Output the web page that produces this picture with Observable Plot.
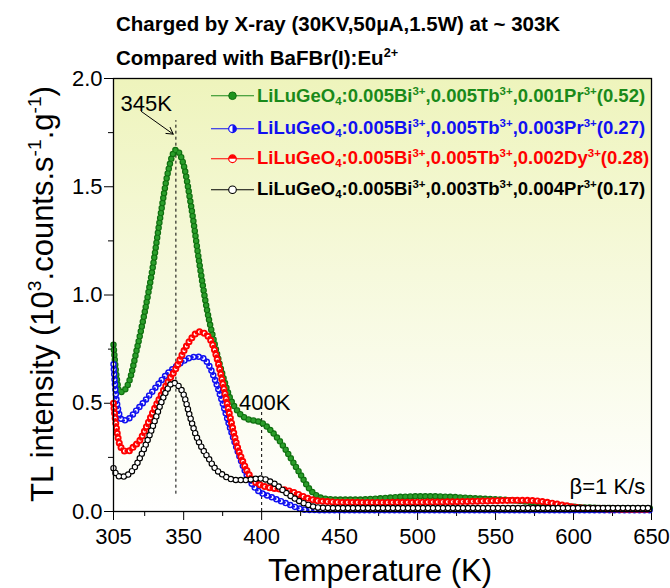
<!DOCTYPE html>
<html><head><meta charset="utf-8">
<script src="https://cdn.jsdelivr.net/npm/d3@7"></script>
<script src="https://cdn.jsdelivr.net/npm/@observablehq/plot@0.6"></script>
<style>
html,body{margin:0;padding:0;background:#fff;}
#wrap{position:relative;width:670px;height:588px;font-family:"Liberation Sans",Arial,sans-serif;color:#000;overflow:hidden;}
#wrap > svg{position:absolute;left:0;top:0;}
.abs{position:absolute;white-space:nowrap;line-height:1;}
.title{font-weight:bold;font-size:20.5px;left:116px;transform:translateY(-50%);}
sup,sub{font-size:0.62em;line-height:0;}
sup{vertical-align:0.6em;} sub{vertical-align:-0.3em;}
.leg{left:211px;font-weight:bold;font-size:18.5px;display:flex;align-items:center;transform:translateY(-50%);}
.leg svg{margin-right:3px;}
.axlab{font-size:31px;}
</style></head>
<body><div id="wrap"></div>
<script>
// ---------- data ----------
const greenT = [305,307,309,312,315,320,325,330,335,340,345,350,355,360,365,370,375,380,385,390,395,400,405,410,415,420,425,430,435,440,450,460,470,480,490,500,510,520,530,540,550,560,570,580,590,600,620,650];
const greenV = [0.77,0.62,0.55,0.56,0.60,0.75,0.92,1.12,1.36,1.57,1.67,1.60,1.40,1.15,0.93,0.77,0.63,0.52,0.46,0.43,0.42,0.41,0.38,0.34,0.29,0.23,0.17,0.11,0.075,0.06,0.055,0.055,0.058,0.063,0.068,0.07,0.07,0.068,0.064,0.06,0.056,0.052,0.045,0.037,0.028,0.022,0.016,0.014];

const blueT = [305,306,308,311,315,320,325,330,335,340,345,350,355,360,365,370,375,380,385,390,395,400,405,410,415,420,425,430,440,500,650];
const blueV = [0.68,0.58,0.47,0.42,0.43,0.47,0.51,0.555,0.60,0.64,0.67,0.695,0.712,0.715,0.69,0.61,0.50,0.38,0.27,0.175,0.115,0.085,0.07,0.055,0.04,0.025,0.012,0.007,0.006,0.006,0.006];

const redT = [305,307,309,312,315,318,322,326,330,335,340,345,350,355,360,364,368,372,376,380,384,388,392,396,400,405,410,415,420,425,430,435,440,450,470,500,530,550,565,575,585,595,605,620,650];
const redV = [0.50,0.38,0.31,0.28,0.28,0.30,0.33,0.39,0.455,0.53,0.60,0.66,0.74,0.80,0.83,0.82,0.78,0.69,0.56,0.43,0.31,0.23,0.17,0.135,0.12,0.11,0.105,0.10,0.09,0.075,0.06,0.05,0.047,0.043,0.042,0.043,0.046,0.05,0.052,0.05,0.04,0.027,0.016,0.012,0.01];

const blackT = [305,307,310,313,316,320,324,328,332,336,340,343,346,350,354,358,362,366,370,375,380,385,390,395,400,405,410,415,420,425,430,435,440,450,500,550,600,650];
const blackV = [0.20,0.17,0.16,0.165,0.18,0.22,0.28,0.35,0.43,0.51,0.57,0.595,0.585,0.54,0.44,0.35,0.29,0.245,0.20,0.17,0.15,0.145,0.145,0.15,0.152,0.14,0.12,0.09,0.065,0.045,0.03,0.02,0.017,0.016,0.016,0.016,0.016,0.016];

const seriesColors = ["#1a8a1a", "#1010f0", "#ff0000", "#000000"];
const legendLabels = [
  "LiLuGeO<sub>4</sub>:0.005Bi<sup>3+</sup>,0.005Tb<sup>3+</sup>,0.001Pr<sup>3+</sup>(0.52)",
  "LiLuGeO<sub>4</sub>:0.005Bi<sup>3+</sup>,0.005Tb<sup>3+</sup>,0.003Pr<sup>3+</sup>(0.27)",
  "LiLuGeO<sub>4</sub>:0.005Bi<sup>3+</sup>,0.005Tb<sup>3+</sup>,0.002Dy<sup>3+</sup>(0.28)",
  "LiLuGeO<sub>4</sub>:0.005Bi<sup>3+</sup>,0.003Tb<sup>3+</sup>,0.004Pr<sup>3+</sup>(0.17)"
];
const titleLines = ["Charged by X-ray (30KV,50\u03bcA,1.5W) at ~ 303K", "Compared with BaFBr(I):Eu<sup>2+</sup>"];
const xMajor = [305,350,400,450,500,550,600,650];
const xMinor = [325,375,425,475,525,575,625];
const yMajor = [0,0.5,1.0,1.5,2.0];
const yMinor = [0.25,0.75,1.25,1.75];
const guides = [{T:345, y1:0.08, y2:1.805}, {T:400, y1:0, y2:0.48}];
const arrow345 = [{x1:322.8, y1:1.848, x2:343.3, y2:1.743}];
const notes = [{T:326, v:1.883, label:"345K"}, {T:402, v:0.503, label:"400K"}];
const rateNote = [{T:646, v:0.114, label:"\u03b2=1 K/s"}];

// ---------- chart ----------
const rows = (T, V) => T.map((t, i) => ({T: t, v: V[i]}));
const green = rows(greenT, greenV), blue = rows(blueT, blueV), red = rows(redT, redV), black = rows(blackT, blackV);
const DASH = "0 5";
const dots = (data, color, w, extra = {}) => Plot.line(data, {x: "T", y: "v", curve: "monotone-x", stroke: color, strokeWidth: w, strokeLinecap: "round", strokeDasharray: DASH, ...extra});
const thin = (data, color) => Plot.line(data, {x: "T", y: "v", curve: "monotone-x", stroke: color, strokeWidth: 1});

const chart = Plot.plot({
  width: 670, height: 588,
  marginTop: 78, marginBottom: 77, marginLeft: 113, marginRight: 19,
  style: {fontFamily: "'Liberation Sans', Arial, sans-serif", fontSize: "22px", background: "transparent", overflow: "visible"},
  x: {domain: [305, 650], label: null},
  y: {domain: [0, 2], label: null},
  marks: [
    Plot.frame({fill: "url(#bgGrad)"}),
    Plot.axisX({ticks: xMajor, tickSize: 9, tickPadding: 8, fontSize: 22, tickFormat: d => String(d), label: null, stroke: "black", fill: "black"}),
    Plot.axisX({ticks: xMinor, tickSize: 5, tickFormat: () => "", label: null, stroke: "black"}),
    Plot.axisY({ticks: yMajor, tickSize: 9, tickPadding: 2, fontSize: 22, tickFormat: d3.format(".1f"), label: null, stroke: "black", fill: "black"}),
    Plot.axisY({ticks: yMinor, tickSize: 5, tickFormat: () => "", label: null, stroke: "black"}),
    Plot.ruleX(guides, {x: "T", y1: "y1", y2: "y2", stroke: "black", strokeWidth: 1, strokeDasharray: "3,3"}),
    // green: filled spheres
    thin(green, "#1a8a1a"),
    dots(green, "#0f6f0f", 6.5),
    dots(green, "#2a9d2a", 4.2),
    // blue: half-filled circles
    thin(blue, "#1010f0"),
    dots(blue, "#1010f0", 6.5),
    dots(blue, "#ffffff", 3.6),
    dots(blue, "#1010f0", 2.6, {strokeDashoffset: 1.2}),
    // red: half-filled circles
    thin(red, "#ff0000"),
    dots(red, "#ff0000", 7),
    dots(red, "#ffffff", 3.2),
    dots(red, "#ff0000", 3.2, {strokeDashoffset: -1.5}),
    // black: open circles
    thin(black, "#000000"),
    dots(black, "#000000", 6.5),
    dots(black, "#ffffff", 4.2),
    Plot.arrow(arrow345, {x1: "x1", y1: "y1", x2: "x2", y2: "y2", stroke: "black", strokeWidth: 1, headLength: 11}),
    Plot.text(notes, {x: "T", y: "v", text: "label", textAnchor: "middle", fontSize: 22, fill: "black"}),
    Plot.text(rateNote, {x: "T", y: "v", text: "label", textAnchor: "end", fontSize: 22, fill: "black"}),
    Plot.frame({stroke: "black", strokeWidth: 1.3})
  ]
});

const ns = "http://www.w3.org/2000/svg";
const defs = document.createElementNS(ns, "defs");
defs.innerHTML = '<linearGradient id="bgGrad" x1="0" y1="0" x2="0" y2="1">' +
  '<stop offset="0" stop-color="#eef4bc"/><stop offset="0.45" stop-color="#f6f9dc"/><stop offset="1" stop-color="#ffffff"/></linearGradient>';
chart.insertBefore(defs, chart.firstChild);

const wrap = document.getElementById("wrap");
wrap.appendChild(chart);

// titles
const titleY = [24, 58];
titleLines.forEach((t, i) => {
  const d = document.createElement("div");
  d.className = "abs title";
  d.style.top = titleY[i] + "px";
  d.innerHTML = t;
  wrap.appendChild(d);
});

// legend
const legY = [95.7, 128.3, 158.3, 189.3];
const legFill = [
  '<circle cx="21.5" cy="7" r="3.8" fill="#1f931f" stroke="#0f6f0f" stroke-width="1"/>',
  '<circle cx="21.5" cy="7" r="3.8" fill="#fff" stroke="#1010f0" stroke-width="1.2"/><path d="M21.5 3.2 A3.8 3.8 0 0 1 21.5 10.8 Z" fill="#1010f0"/>',
  '<circle cx="21.5" cy="7" r="3.8" fill="#fff" stroke="#ff0000" stroke-width="1.2"/><path d="M17.7 7 A3.8 3.8 0 0 1 25.3 7 Z" fill="#ff0000"/>',
  '<circle cx="21.5" cy="7" r="3.8" fill="#fff" stroke="#000" stroke-width="1.1"/>'
];
legendLabels.forEach((lab, i) => {
  const d = document.createElement("div");
  d.className = "abs leg";
  d.style.top = legY[i] + "px";
  d.style.color = seriesColors[i];
  d.innerHTML = '<svg width="43" height="14" viewBox="0 0 43 14"><line x1="0" y1="7" x2="43" y2="7" stroke="' + seriesColors[i] + '" stroke-width="1.2"/>' + legFill[i] + '</svg><span>' + lab + '</span>';
  wrap.appendChild(d);
});

// axis titles
const yl = document.createElement("div");
yl.className = "abs axlab";
yl.style.left = "42px"; yl.style.top = "294px";
yl.style.transform = "translate(-50%,-50%) rotate(-90deg)";
yl.innerHTML = "TL intensity (10<sup>3</sup>.counts.s<sup>-1</sup>.g<sup>-1</sup>)";
wrap.appendChild(yl);

const xl = document.createElement("div");
xl.className = "abs axlab";
xl.style.left = "380px"; xl.style.top = "570px";
xl.style.transform = "translate(-50%,-50%)";
xl.textContent = "Temperature (K)";
wrap.appendChild(xl);
</script>
</body></html>
